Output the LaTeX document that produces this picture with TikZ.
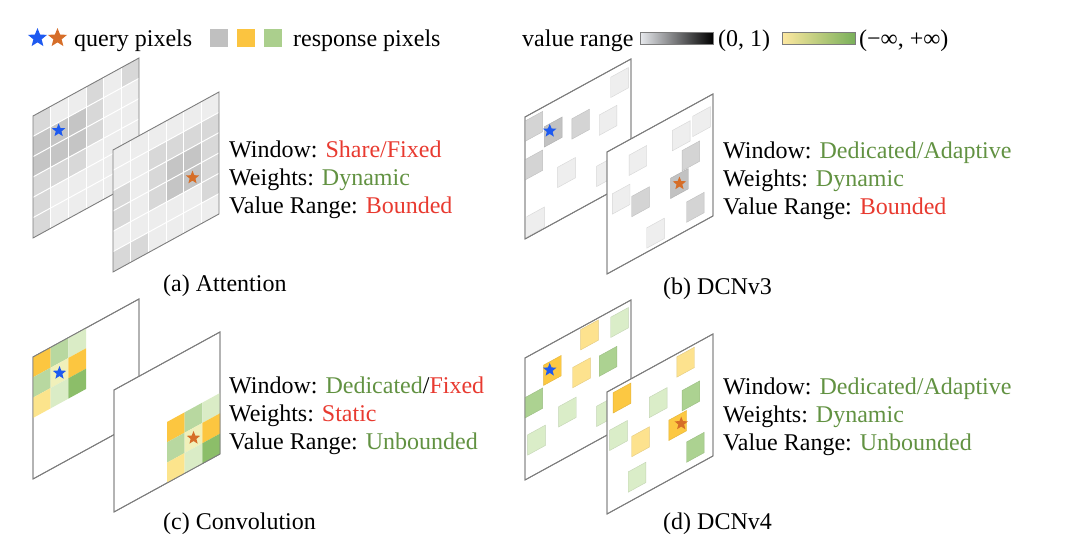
\documentclass[tikz,border=0pt]{standalone}
\usepackage{fontspec}
\setmainfont{Liberation Serif}
\usepackage{tikz}
\usetikzlibrary{shapes.geometric}
\definecolor{hiRed}{RGB}{232, 58, 48}
\definecolor{hiGreen}{RGB}{98, 146, 66}
\definecolor{frameGray}{RGB}{125, 125, 125}
\definecolor{attL}{RGB}{237, 237, 237}
\definecolor{attM}{RGB}{216, 216, 216}
\definecolor{attD}{RGB}{197, 197, 197}
\definecolor{qBlue}{RGB}{30, 90, 240}
\definecolor{qOrange}{RGB}{214, 110, 40}
\definecolor{legGray}{RGB}{192, 192, 192}
\definecolor{legGold}{RGB}{251, 196, 64}
\definecolor{legGreen}{RGB}{171, 207, 141}
\definecolor{knGold}{RGB}{252, 198, 64}
\definecolor{knLgreen}{RGB}{184, 216, 160}
\definecolor{knPgreen}{RGB}{218, 236, 198}
\definecolor{knYellow}{RGB}{252, 228, 140}
\definecolor{knPyellow}{RGB}{240, 240, 186}
\definecolor{knGreen}{RGB}{140, 190, 105}
\definecolor{dcnVL}{RGB}{238, 238, 238}
\definecolor{dcnMid}{RGB}{212, 212, 212}
\definecolor{dcnDark}{RGB}{194, 194, 194}
\definecolor{vGold}{RGB}{252, 200, 66}
\definecolor{vYel}{RGB}{253, 226, 142}
\definecolor{vGrn}{RGB}{172, 210, 145}
\definecolor{vLgr}{RGB}{218, 237, 200}
\definecolor{rangeLow}{RGB}{232, 234, 238}
\definecolor{rangeYel}{RGB}{253, 232, 160}
\definecolor{rangeGrn}{RGB}{120, 175, 90}

\begin{document}
\begin{tikzpicture}[x=1pt, y=-1pt,
  txt/.style={font=\fontsize{24}{28}\selectfont, inner sep=0pt, anchor=base west},
  frame/.style={draw=frameGray, line width=0.9pt},
  sheet/.style={shift={#1}, x={(17.67pt,9.67pt)}, y={(0pt,-20.33pt)}},
  qstar/.style={star, star points=5, star point ratio=2.3, minimum size=14pt, inner sep=0pt},
  cellline/.style={white, line width=1pt},
  swatch/.style={rectangle, minimum size=18pt, inner sep=0pt},
  bar/.style={rectangle, draw=frameGray, line width=0.6pt, minimum width=73pt,
              minimum height=12pt, inner sep=0pt},
]
  \useasboundingbox (0,0) rectangle (1080,554);

  % legend: query and response pixels
  \node[qstar, minimum size=20pt, fill=qBlue] (legBlue) at (37.5,38) {};
  \node[qstar, minimum size=20pt, fill=qOrange] (legOrange) at (57.5,38) {};
  \node[txt] (legQuery) at (74,46) {query pixels};
  \node[swatch, fill=legGray] (swGray) at (219,37.5) {};
  \node[swatch, fill=legGold] (swGold) at (246,37.5) {};
  \node[swatch, fill=legGreen] (swGreen) at (272.5,37.5) {};
  \node[txt] (legResp) at (293,46) {response pixels};

  % legend: value range
  \node[txt] (legRange) at (522,46) {value range};
  \node[bar, left color=rangeLow, right color=black] (barUnit) at (676.5,38) {};
  \node[txt] (legUnit) at (718,46) {(0, 1)};
  \node[bar, left color=rangeYel, right color=rangeGrn] (barReal) at (819,38) {};
  \node[txt] (legReal) at (859,46) {(−∞, +∞)};

  % (a) attention, back sheet
  \begin{scope}[sheet={(33,116)}]
    \foreach \row [count=\j from 0] in {{M,L,L,M,L,M},{D,D,D,M,L,L},{D,D,D,M,L,L},
                                        {M,M,M,L,L,L},{M,L,L,L,L,L},{M,L,L,L,L,L}}
      \foreach \c [count=\i from 0] in \row
        \fill[att\c] (\i,\j) -- ++(1,0) -- ++(0,1) -- ++(-1,0) -- cycle;
    \foreach \k in {1,...,5} {
      \draw[cellline] (\k,0) -- (\k,6);
      \draw[cellline] (0,\k) -- (6,\k);
    }
    \draw[frame] (0,0) -- (6,0) -- (6,6) -- (0,6) -- cycle;
    \node[qstar, fill=qBlue] (qA) at (1.45,1.4) {};
  \end{scope}

  % (a) attention, front sheet
  \begin{scope}[sheet={(113,150)}]
    \foreach \row [count=\j from 0] in {{L,L,L,L,L,L},{L,L,M,M,M,M},{M,L,M,D,D,M},
                                        {M,L,M,D,D,M},{L,L,L,L,L,M},{M,M,L,L,L,L}}
      \foreach \c [count=\i from 0] in \row
        \fill[att\c] (\i,\j) -- ++(1,0) -- ++(0,1) -- ++(-1,0) -- cycle;
    \foreach \k in {1,...,5} {
      \draw[cellline] (\k,0) -- (\k,6);
      \draw[cellline] (0,\k) -- (6,\k);
    }
    \draw[frame] (0,0) -- (6,0) -- (6,6) -- (0,6) -- cycle;
    \node[qstar, fill=qOrange] (rA) at (4.5,3.5) {};
  \end{scope}

  \node[txt] (winA) at (229,157) {Window: \textcolor{hiRed}{Share/Fixed}};
  \node[txt] (wgtA) at (229,185) {Weights: \textcolor{hiGreen}{Dynamic}};
  \node[txt] (valA) at (229,213) {Value Range: \textcolor{hiRed}{Bounded}};
  \node[txt] (capA) at (163,291) {(a) Attention};

  % (b) DCNv3, back sheet
  \begin{scope}[sheet={(525,117)}]
    \filldraw[frame, fill=white] (0,0) -- (6,0) -- (6,6) -- (0,6) -- cycle;
    \foreach \p/\q/\c in {0/0.2/Mid, 1.1/1.0/Dark, 2.65/1.35/Mid, 4.2/1.9/VL, 4.85/0.35/VL,
                          0/2.1/Mid, 1.85/3.35/VL, 4.05/4.35/VL, 0.1/4.95/VL}
      \filldraw[fill=dcn\c, draw=dcn\c!90!black, line width=0.4pt]
        (\p,\q) -- ++(1,0) -- ++(0,1) -- ++(-1,0) -- cycle;
    \draw[frame] (0,0) -- (6,0) -- (6,6) -- (0,6) -- cycle;
    \node[qstar, fill=qBlue] (qB) at (1.4,1.35) {};
  \end{scope}

  % (b) DCNv3, front sheet
  \begin{scope}[sheet={(607,152)}]
    \filldraw[frame, fill=white] (0,0) -- (6,0) -- (6,6) -- (0,6) -- cycle;
    \foreach \p/\q/\c in {1.25/0.75/VL, 3.7/0.7/VL, 4.85/0.55/VL, 4.25/1.95/Mid, 3.6/3.0/Dark,
                          0.3/2.2/VL, 1.4/2.85/Mid, 4.5/4.6/Mid, 2.25/4.8/VL}
      \filldraw[fill=dcn\c, draw=dcn\c!90!black, line width=0.4pt]
        (\p,\q) -- ++(1,0) -- ++(0,1) -- ++(-1,0) -- cycle;
    \draw[frame] (0,0) -- (6,0) -- (6,6) -- (0,6) -- cycle;
    \node[qstar, fill=qOrange] (rB) at (4.1,3.5) {};
  \end{scope}

  \node[txt] (winB) at (723,158) {Window: \textcolor{hiGreen}{Dedicated/Adaptive}};
  \node[txt] (wgtB) at (723,186) {Weights: \textcolor{hiGreen}{Dynamic}};
  \node[txt] (valB) at (723,214) {Value Range: \textcolor{hiRed}{Bounded}};
  \node[txt] (capB) at (663,294) {(b) DCNv3};

  % (c) convolution, back sheet
  \begin{scope}[sheet={(33,357)}]
    \filldraw[frame, fill=white] (0,0) -- (6,0) -- (6,6) -- (0,6) -- cycle;
    \foreach \row [count=\j from 0] in {{Gold,Lgreen,Pgreen},{Lgreen,Pyellow,Gold},{Yellow,Pgreen,Green}}
      \foreach \c [count=\i from 0] in \row
        \fill[kn\c] (\i,\j) -- ++(1,0) -- ++(0,1) -- ++(-1,0) -- cycle;
    \draw[frame] (0,0) -- (6,0) -- (6,6) -- (0,6) -- cycle;
    \node[qstar, fill=qBlue] (qC) at (1.5,1.5) {};
  \end{scope}

  % (c) convolution, front sheet
  \begin{scope}[sheet={(114,390)}]
    \filldraw[frame, fill=white] (0,0) -- (6,0) -- (6,6) -- (0,6) -- cycle;
    \foreach \row [count=\j from 3] in {{Gold,Lgreen,Pgreen},{Lgreen,Pyellow,Gold},{Yellow,Pgreen,Green}}
      \foreach \c [count=\i from 3] in \row
        \fill[kn\c] (\i,\j) -- ++(1,0) -- ++(0,1) -- ++(-1,0) -- cycle;
    \draw[frame] (0,0) -- (6,0) -- (6,6) -- (0,6) -- cycle;
    \node[qstar, fill=qOrange] (rC) at (4.5,4.5) {};
  \end{scope}

  \node[txt] (winC) at (229,393) {Window: \textcolor{hiGreen}{Dedicated}/\textcolor{hiRed}{Fixed}};
  \node[txt] (wgtC) at (229,421) {Weights: \textcolor{hiRed}{Static}};
  \node[txt] (valC) at (229,449) {Value Range: \textcolor{hiGreen}{Unbounded}};
  \node[txt] (capC) at (163,529) {(c) Convolution};

  % (d) DCNv4, back sheet
  \begin{scope}[sheet={(525,358)}]
    \filldraw[frame, fill=white] (0,0) -- (6,0) -- (6,6) -- (0,6) -- cycle;
    \foreach \p/\q/\c in {3.15/0.1/Yel, 4.85/0.3/Lgr, 1.05/0.85/Gold, 2.7/1.75/Yel, 4.2/1.9/Grn,
                          0/1.95/Grn, 1.9/3.3/Lgr, 4.05/4.3/Lgr, 0.15/3.85/Lgr}
      \filldraw[fill=v\c, draw=v\c!90!black, line width=0.4pt]
        (\p,\q) -- ++(1,0) -- ++(0,1) -- ++(-1,0) -- cycle;
    \draw[frame] (0,0) -- (6,0) -- (6,6) -- (0,6) -- cycle;
    \node[qstar, fill=qBlue] (qD) at (1.4,1.25) {};
  \end{scope}

  % (d) DCNv4, front sheet
  \begin{scope}[sheet={(607,392)}]
    \filldraw[frame, fill=white] (0,0) -- (6,0) -- (6,6) -- (0,6) -- cycle;
    \foreach \p/\q/\c in {3.95/0.15/Yel, 0.35/0.2/Gold, 2.4/1.4/Lgr, 4.25/1.95/Grn, 3.5/3.05/Gold,
                          0.15/1.95/Lgr, 1.4/2.85/Yel, 4.5/4.6/Grn, 1.2/4.5/Lgr}
      \filldraw[fill=v\c, draw=v\c!90!black, line width=0.4pt]
        (\p,\q) -- ++(1,0) -- ++(0,1) -- ++(-1,0) -- cycle;
    \draw[frame] (0,0) -- (6,0) -- (6,6) -- (0,6) -- cycle;
    \node[qstar, fill=qOrange] (rD) at (4.2,3.55) {};
  \end{scope}

  \node[txt] (winD) at (723,394) {Window: \textcolor{hiGreen}{Dedicated/Adaptive}};
  \node[txt] (wgtD) at (723,422) {Weights: \textcolor{hiGreen}{Dynamic}};
  \node[txt] (valD) at (723,450) {Value Range: \textcolor{hiGreen}{Unbounded}};
  \node[txt] (capD) at (663,529) {(d) DCNv4};
\end{tikzpicture}
\end{document}
